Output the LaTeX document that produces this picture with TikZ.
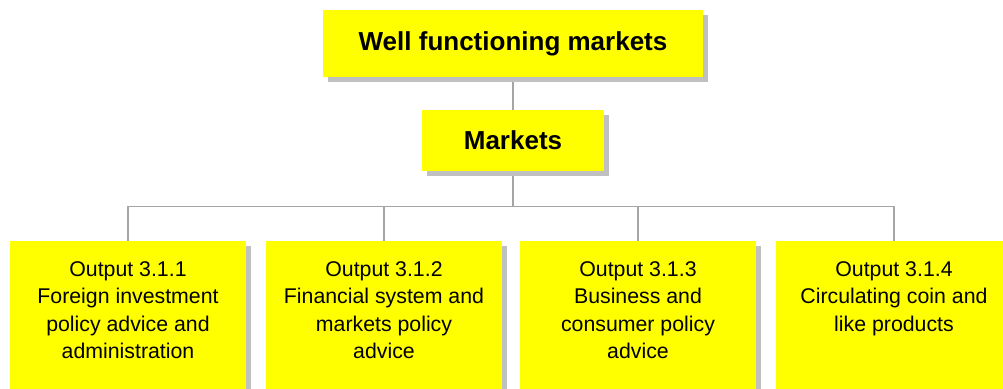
\documentclass[tikz,border=0pt]{standalone}
\usepackage{fontspec}
\setmainfont{Liberation Sans}
\usetikzlibrary{shadows,backgrounds}
\definecolor{boxyellow}{RGB}{255,255,0}
\definecolor{shadowgray}{RGB}{192,192,192}
\definecolor{linkgray}{RGB}{165,165,165}
% text of an output box, hung from the top edge
\newcommand{\outputtext}[1]{\parbox[t][160pt][t]{236pt}{\centering\rule{0pt}{35pt}#1}}
\tikzset{
  yellowbox/.style={fill=boxyellow, inner sep=0pt,
    drop shadow={shadow xshift=5pt, shadow yshift=-5pt, fill=shadowgray, opacity=1}},
  headbox/.style={yellowbox, font=\fontsize{26}{31}\selectfont\bfseries},
  outbox/.style={yellowbox, anchor=north, font=\fontsize{21.3}{27.4}\selectfont},
  link/.style={linkgray, line width=1.2pt}
}
\begin{document}
\begin{tikzpicture}[x=1pt,y=-1pt]
\useasboundingbox (0,0) rectangle (1003,388);
\clip (0,0) rectangle (1003,388);
\node[headbox, minimum width=380pt, minimum height=67pt] (goal) at (513,43.5) {Well functioning markets};
\node[headbox, minimum width=182pt, minimum height=61pt] (mkt) at (513,140.5) {Markets};
\node[outbox] (o1) at (128,241) {\outputtext{Output 3.1.1\\Foreign investment\\policy advice and\\administration}};
\node[outbox] (o2) at (384,241) {\outputtext{Output 3.1.2\\Financial system and\\markets policy\\advice}};
\node[outbox] (o3) at (638,241) {\outputtext{Output 3.1.3\\Business and\\consumer policy\\advice}};
\node[outbox] (o4) at (894,241) {\outputtext{Output 3.1.4\\Circulating coin and\\like products}};
\begin{pgfonlayer}{background}
\draw[link] (goal.south) -- (mkt.north);
\foreach \i in {1,...,4}
  \draw[link] (mkt.south) -- ++(0,35) -| (o\i.north);
\end{pgfonlayer}
\end{tikzpicture}
\end{document}
